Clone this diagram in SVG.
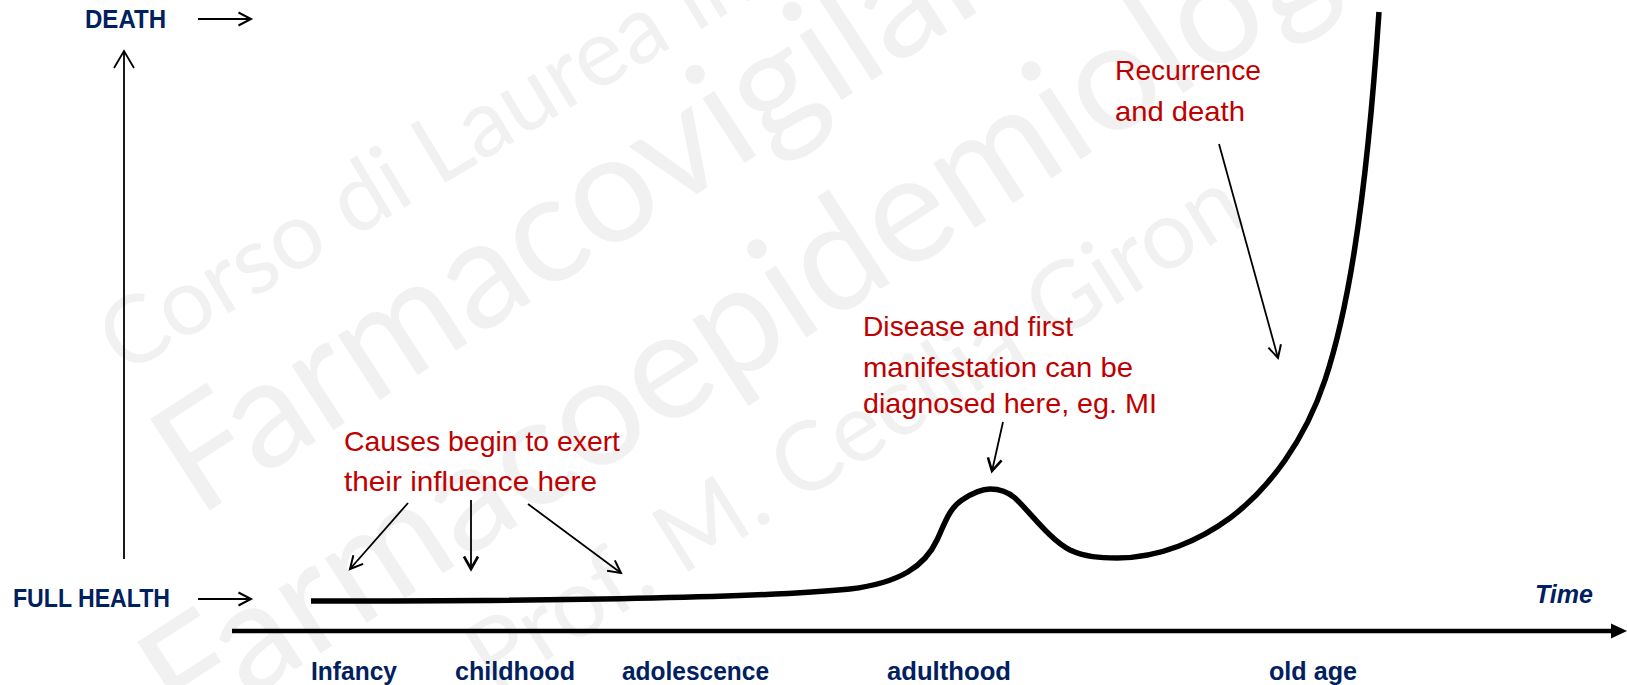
<svg xmlns="http://www.w3.org/2000/svg" width="1627" height="685" viewBox="0 0 1627 685">
  <defs>
    <style>
      .wm { font-family: "Lato", "Liberation Sans", sans-serif; font-weight: 400; fill: #f1f1f1; }
      .lbl { font-family: "Liberation Sans", Arial, sans-serif; font-weight: bold; font-size: 26px; fill: #002060; }
      .note { font-family: "Liberation Sans", Arial, sans-serif; font-size: 28px; fill: #c00000; }
      .arr { fill: none; stroke: #000; stroke-width: 1.8; }
    </style>
    <marker id="head" viewBox="-15 -9 18 18" refX="0" refY="0" markerWidth="18" markerHeight="18" orient="auto" markerUnits="userSpaceOnUse">
      <path d="M -12.5 -6.5 L 0 0 L -12.5 6.5" fill="none" stroke="#000" stroke-width="2" stroke-linejoin="miter"/>
    </marker>
    <marker id="head-bold" viewBox="-15 -9 18 18" refX="0" refY="0" markerWidth="18" markerHeight="18" orient="auto" markerUnits="userSpaceOnUse">
      <path d="M -12.5 -7 L 0 0 L -12.5 7" fill="none" stroke="#000" stroke-width="2.6"/>
    </marker>
    <marker id="head-long" viewBox="-20 -12 22 24" refX="0" refY="0" markerWidth="22" markerHeight="24" orient="auto" markerUnits="userSpaceOnUse">
      <path d="M -17 -10 L 0 0 L -17 10" fill="none" stroke="#000" stroke-width="1.8"/>
    </marker>
  </defs>

  <rect width="1627" height="685" fill="#ffffff"/>

  <!-- background lettering -->
  <g id="watermark">
    <text class="wm" font-size="94" transform="translate(124 376) rotate(-31)">Corso di Laurea in</text>
    <text class="wm" font-size="152" transform="translate(198 518) rotate(-33)">Farmacovigilanza</text>
    <text class="wm" font-size="152" transform="translate(185 741) rotate(-33)">Farmacoepidemiologia</text>
    <text class="wm" font-size="96" transform="translate(493 694) rotate(-32)">Prof. M. Cecilia Giron</text>
  </g>

  <!-- health axis labels -->
  <g id="death-label">
    <text class="lbl" x="85" y="28" textLength="81" lengthAdjust="spacingAndGlyphs">DEATH</text>
  </g>
  <g id="health-label">
    <text class="lbl" x="13" y="607" textLength="157" lengthAdjust="spacingAndGlyphs">FULL HEALTH</text>
  </g>

  <!-- life stages along the time axis -->
  <g id="stage-infancy">
    <text class="lbl" x="311" y="680" textLength="86" lengthAdjust="spacingAndGlyphs">Infancy</text>
  </g>
  <g id="stage-childhood">
    <text class="lbl" x="455" y="680" textLength="120" lengthAdjust="spacingAndGlyphs">childhood</text>
  </g>
  <g id="stage-adolescence">
    <text class="lbl" x="622" y="680" textLength="147" lengthAdjust="spacingAndGlyphs">adolescence</text>
  </g>
  <g id="stage-adulthood">
    <text class="lbl" x="887" y="680" textLength="124" lengthAdjust="spacingAndGlyphs">adulthood</text>
  </g>
  <g id="stage-old-age">
    <text class="lbl" x="1269" y="680" textLength="88" lengthAdjust="spacingAndGlyphs">old age</text>
  </g>
  <g id="time-label">
    <text class="lbl" x="1535" y="603" font-size="24" font-style="italic" textLength="58" lengthAdjust="spacingAndGlyphs">Time</text>
  </g>

  <!-- annotations -->
  <g id="note-causes">
    <text class="note" x="344" y="451" textLength="276" lengthAdjust="spacingAndGlyphs">Causes begin to exert</text>
    <text class="note" x="344" y="491" textLength="253" lengthAdjust="spacingAndGlyphs">their influence here</text>
  </g>
  <g id="note-disease">
    <text class="note" x="863" y="336" textLength="210" lengthAdjust="spacingAndGlyphs">Disease and first</text>
    <text class="note" x="863" y="377" textLength="270" lengthAdjust="spacingAndGlyphs">manifestation can be</text>
    <text class="note" x="863" y="413" textLength="294" lengthAdjust="spacingAndGlyphs">diagnosed here, eg. MI</text>
  </g>
  <g id="note-recurrence">
    <text class="note" x="1115" y="80" textLength="146" lengthAdjust="spacingAndGlyphs">Recurrence</text>
    <text class="note" x="1115" y="121" textLength="130" lengthAdjust="spacingAndGlyphs">and death</text>
  </g>

  <!-- natural history curve -->
  <g id="health-curve">
    <path d="M 311 601 C 560 601 760 598 850 589 C 900 583 925 566 937 540 C 946 520 950 508 962 500 C 974 492 982 489 990 489 C 1000 489 1008 492 1015 498 C 1030 512 1050 540 1070 550 C 1085 557 1100 558 1117 558 C 1160 558 1200 540 1230 518 C 1270 488 1305 440 1325 380 C 1345 320 1365 220 1379 12" fill="none" stroke="#000" stroke-width="5.5" stroke-linecap="butt" stroke-linejoin="round"/>
  </g>

  <!-- axes and pointers -->
  <g id="connectors">
    <line id="time-axis" x1="232" y1="631" x2="1614" y2="631" stroke="#000" stroke-width="4.5"/>
    <polygon points="1611,623.5 1627,631 1611,638.5" fill="#000"/>
    <line class="arr" x1="124" y1="559" x2="124" y2="51" marker-end="url(#head-long)"/>
    <line class="arr" x1="198" y1="19" x2="251" y2="19" stroke-width="2" marker-end="url(#head)"/>
    <line class="arr" x1="198" y1="599" x2="251" y2="599" stroke-width="2" marker-end="url(#head)"/>
    <line class="arr" x1="408" y1="503" x2="350" y2="569" marker-end="url(#head)"/>
    <line class="arr" x1="471" y1="500" x2="471" y2="569" stroke-width="2.8" marker-end="url(#head-bold)"/>
    <line class="arr" x1="528" y1="504" x2="621" y2="573" marker-end="url(#head)"/>
    <line class="arr" x1="1003" y1="422" x2="992" y2="471" stroke-width="2.3" marker-end="url(#head-bold)"/>
    <line class="arr" x1="1219" y1="144" x2="1278" y2="358" marker-end="url(#head)"/>
  </g>
</svg>
